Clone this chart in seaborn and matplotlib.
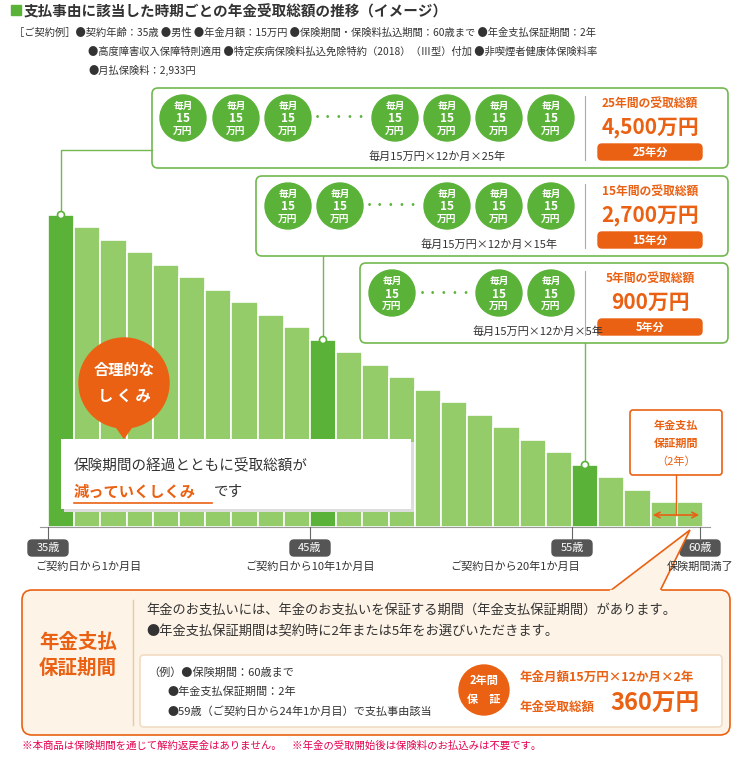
import numpy as np
import pandas as pd
import matplotlib.pyplot as plt
import seaborn as sns
from matplotlib.patches import FancyBboxPatch, Circle, Polygon, Rectangle

plt.rcParams['font.family'] = 'Noto Sans CJK JP'

# data
ages = list(range(35, 60))
payout_years = list(range(25, 2, -1)) + [2, 2]
highlight_ages = [35, 45, 55]

GREEN_D = '#5bb239'
GREEN_L = '#95cc6a'
ORANGE = '#ea6113'
GRAY = '#333333'

df = pd.DataFrame({'age': ages, 'years': payout_years})

W, H = 746, 761
fig = plt.figure(figsize=(W / 100, H / 100), dpi=100)

# bar axes in pixel frame: x 48-703, baseline 527, 25 years -> y 215
ax = fig.add_axes([48 / W, (H - 527) / H, (703 - 48) / W, (527 - 215) / H])
palette = {a: (GREEN_D if a in highlight_ages else GREEN_L) for a in ages}
sns.barplot(data=df, x='age', y='years', hue='age', palette=palette, dodge=False,
            legend=False, width=1.0, saturation=1, edgecolor='white', linewidth=1.2, ax=ax)
ax.set_xlim(-0.5, len(ages) - 0.5)
ax.set_ylim(0, 25)
ax.axis('off')

# overlay in pixel coordinates
o = fig.add_axes([0, 0, 1, 1], zorder=5)
o.set_xlim(0, W)
o.set_ylim(H, 0)
o.axis('off')
o.patch.set_alpha(0)

def t(x, y, s, size=8, color=GRAY, ha='left', weight='normal', **kw):
    o.text(x, y, s, fontsize=size, color=color, ha=ha, va='center', fontweight=weight, **kw)

def rbox(x0, y0, x1, y1, ec, fc='white', lw=1.2, r=6):
    o.add_patch(FancyBboxPatch((x0, y0), x1 - x0, y1 - y0,
                               boxstyle=f'round,pad=0,rounding_size={r}',
                               ec=ec, fc=fc, lw=lw))

# header
o.add_patch(Rectangle((11, 5), 10, 10, color=GREEN_D))
t(24, 11, '支払事由に該当した時期ごとの年金受取総額の推移（イメージ）', 10.5, weight='bold')
t(14, 33, '［ご契約例］●契約年齢：35歳 ●男性 ●年金月額：15万円 ●保険期間・保険料払込期間：60歳まで ●年金支払保証期間：2年', 7.4)
t(88, 52, '●高度障害収入保障特則適用 ●特定疾病保険料払込免除特約（2018）（Ⅲ型）付加 ●非喫煙者健康体保険料率', 7.4)
t(88, 70, '●月払保険料：2,933円', 7.4)

def coin(x, y):
    o.add_patch(Circle((x, y), 23, color=GREEN_D))
    t(x, y - 12, '毎月', 7, 'white', 'center', 'bold')
    t(x, y + 1, '15', 8.5, 'white', 'center', 'bold')
    t(x, y + 13, '万円', 7, 'white', 'center', 'bold')

boxes = [
    (152, 88, 168, [183, 236, 288, 395, 447, 499, 551], 340, '25', '4,500'),
    (256, 176, 256, [288, 340, 447, 499, 551], 392, '15', '2,700'),
    (360, 263, 343, [392, 499, 551], 445, '5', '900'),
]
for x0, y0, y1, xs, dx, yrs, total in boxes:
    rbox(x0, y0, 728, y1, '#72b84e')
    cy = y0 + 30
    for x in xs:
        coin(x, cy)
    t(dx, cy, '・・・・・', 8, GREEN_D, 'center', 'bold')
    t((x0 + 585) / 2, y1 - 11, f'毎月15万円×12か月×{yrs}年', 8)
    o.plot([585, 585], [y0 + 8, y1 - 8], color='#aaaaaa', lw=0.8)
    t(650, y0 + 15, f'{yrs}年間の受取総額', 8.5, ORANGE, 'center', 'bold')
    t(650, y0 + 39, f'{total}万円', 15, ORANGE, 'center', 'bold')
    o.add_patch(FancyBboxPatch((598, y0 + 56), 104, 16, boxstyle='round,pad=0,rounding_size=4', color=ORANGE))
    t(650, y0 + 64, f'{yrs}年分', 8, 'white', 'center', 'bold')

# connectors
lc = '#72b84e'
o.plot([61, 61, 152], [215, 150, 150], color=lc, lw=1)
o.plot([323, 323], [340, 256], color=lc, lw=1)
o.plot([585, 585], [465, 343], color=lc, lw=1)
for x, y in [(61, 215), (323, 340), (585, 465)]:
    o.add_patch(Circle((x, y), 3.5, fc='white', ec=GREEN_D, lw=1.2, zorder=6))

# reasonable mechanism callout
o.add_patch(Circle((124, 383), 45, color=ORANGE))
o.add_patch(Polygon([(114, 424), (134, 424), (124, 438)], color=ORANGE))
t(124, 370, '合理的な', 11, 'white', 'center', 'bold')
t(124, 396, 'し く み', 11, 'white', 'center', 'bold')
o.add_patch(Rectangle((64, 442), 350, 70, fc='#dddddd', ec='none'))
o.add_patch(Rectangle((61, 439), 350, 70, fc='white', ec='none'))
t(74, 465, '保険期間の経過とともに受取総額が', 10.5)
t(74, 492, '減っていくしくみ', 11, ORANGE, weight='bold')
o.plot([74, 212], [503, 503], color=ORANGE, lw=1.2)
t(214, 492, 'です', 10.5)

# guarantee period label
rbox(630, 410, 722, 475, ORANGE, r=3)
t(676, 425, '年金支払', 8, ORANGE, 'center', 'bold')
t(676, 443, '保証期間', 8, ORANGE, 'center', 'bold')
t(676, 462, '（2年）', 8, ORANGE, 'center')
o.plot([676, 676], [475, 515], color=ORANGE, lw=1)
o.annotate('', xy=(650, 515), xytext=(702, 515),
           arrowprops=dict(arrowstyle='<->', color=ORANGE, lw=1.2))

# baseline labels
o.plot([40, 710], [527, 527], color='#999999', lw=0.8)
for x, lab, sub, sx in [(48, '35歳', 'ご契約日から1か月目', 88), (310, '45歳', 'ご契約日から10年1か月目', 310),
                        (572, '55歳', 'ご契約日から20年1か月目', 515), (700, '60歳', '保険期間満了', 700)]:
    o.plot([x, x], [527, 540], color='#666666', lw=0.8)
    o.add_patch(FancyBboxPatch((x - 20, 540), 40, 16, boxstyle='round,pad=0,rounding_size=4', color='#555555'))
    t(x, 548, lab, 8, 'white', 'center')
    t(sx, 567, sub, 8, ha='center')

# bottom box
rbox(22, 590, 730, 735, ORANGE, fc='#fdf3e6', lw=1.2, r=10)
o.add_patch(Polygon([(610, 591), (690, 530), (660, 591)], fc='#fdf3e6', ec=ORANGE, lw=1.2))
o.plot([611, 659], [591, 591], color='#fdf3e6', lw=2.5)
t(78, 642, '年金支払', 14, ORANGE, 'center', 'bold')
t(78, 668, '保証期間', 14, ORANGE, 'center', 'bold')
o.plot([133, 133], [600, 725], color='#e8c9a8', lw=1)
t(146, 610, '年金のお支払いには、年金のお支払いを保証する期間（年金支払保証期間）があります。', 9.5)
t(146, 632, '●年金支払保証期間は契約時に2年または5年をお選びいただきます。', 9.5)
rbox(140, 655, 722, 727, '#f1dcc4', r=4)
t(148, 673, '（例）●保険期間：60歳まで', 8)
t(168, 692, '●年金支払保証期間：2年', 8)
t(168, 711, '●59歳（ご契約日から24年1か月目）で支払事由該当', 8)
o.add_patch(Circle((484, 690), 25, color=ORANGE))
t(484, 680, '2年間', 8, 'white', 'center', 'bold')
t(484, 700, '保　証', 8, 'white', 'center', 'bold')
t(520, 677, '年金月額15万円×12か月×2年', 9, ORANGE, weight='bold')
t(520, 707, '年金受取総額', 9, ORANGE, weight='bold')
t(610, 704, '360万円', 17, ORANGE, weight='bold')

t(22, 746, '※本商品は保険期間を通じて解約返戻金はありません。　※年金の受取開始後は保険料のお払込みは不要です。', 7.5, '#e5004f')

fig.savefig('out.png', dpi=100)
